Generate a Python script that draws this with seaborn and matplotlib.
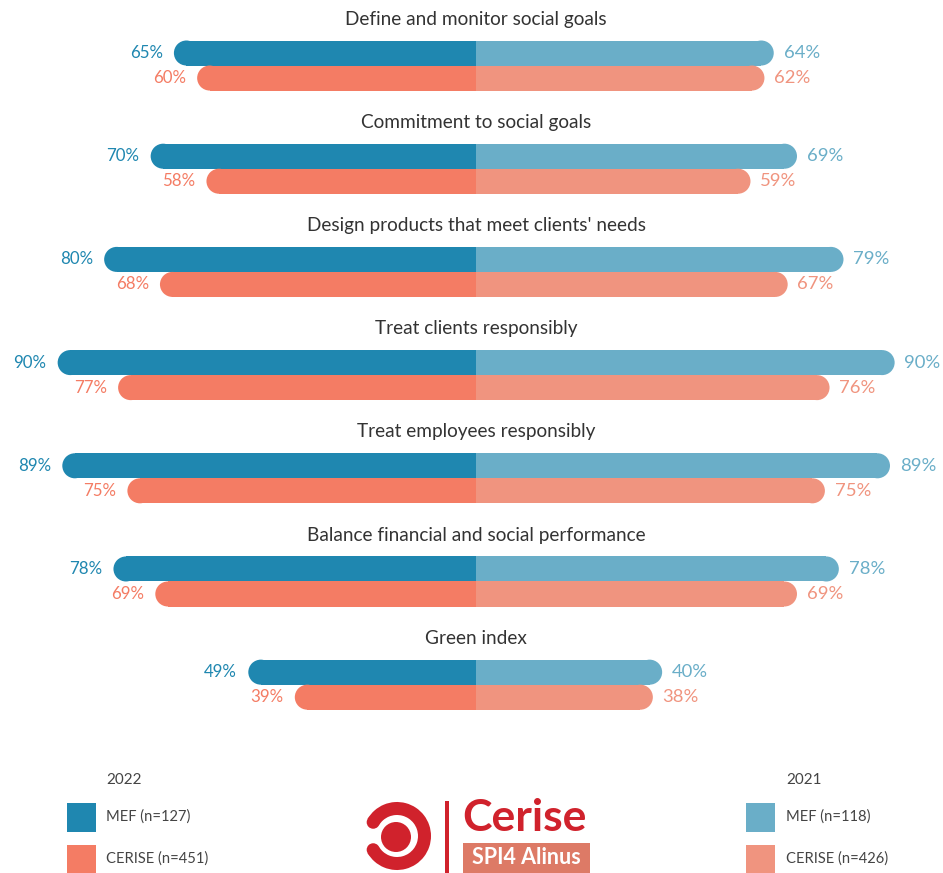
import seaborn as sns
import matplotlib.pyplot as plt
import pandas as pd
from matplotlib.patches import Rectangle, Ellipse, Wedge, Circle
import numpy as np

# ---- data ----
categories = ["Define and monitor social goals", "Commitment to social goals",
              "Design products that meet clients' needs", "Treat clients responsibly",
              "Treat employees responsibly", "Balance financial and social performance",
              "Green index"]
mef_2022 = [65, 70, 80, 90, 89, 78, 49]
cerise_2022 = [60, 58, 68, 77, 75, 69, 39]
mef_2021 = [64, 69, 79, 90, 89, 78, 40]
cerise_2021 = [62, 59, 67, 76, 75, 69, 38]
legend_2022 = ["MEF (n=127)", "CERISE (n=451)"]
legend_2021 = ["MEF (n=118)", "CERISE (n=426)"]

C_MEF22, C_CER22 = "#1f87b0", "#f47c64"
C_MEF21, C_CER21 = "#6aaec8", "#f0947f"
TXT = "#333333"

W, H = 943, 873
sns.set_style("white")
plt.rcParams['font.family'] = ['Lato', 'DejaVu Sans']

df22 = pd.DataFrame({"category": categories * 2,
                     "group": ["MEF"] * 7 + ["CERISE"] * 7,
                     "value": [-v for v in mef_2022 + cerise_2022]})
df21 = pd.DataFrame({"category": categories * 2,
                     "group": ["MEF"] * 7 + ["CERISE"] * 7,
                     "value": mef_2021 + cerise_2021})

fig = plt.figure(figsize=(W / 100, H / 100), dpi=100)
ax = fig.add_axes([0, 0, 1, 1])

for d, pal in [(df22, [C_MEF22, C_CER22]), (df21, [C_MEF21, C_CER21])]:
    sns.barplot(data=d, x="value", y="category", hue="group", orient="h",
                palette=pal, saturation=1, width=0.485, dodge=True,
                errorbar=None, legend=False, ax=ax)

ax.set_xlim(-102.4, 100.4)
ax.set_ylim(7.825, -0.635)
ax.axis("off")

# rounded outer ends
x_unit = ax.transData.transform((1, 0))[0] - ax.transData.transform((0, 0))[0]
y_unit = abs(ax.transData.transform((0, 1))[1] - ax.transData.transform((0, 0))[1])
for p in list(ax.patches):
    x0, w, y, h = p.get_x(), p.get_width(), p.get_y(), p.get_height()
    outer = x0 + w if abs(x0 + w) > abs(x0) else x0
    sign = 1 if outer > 0 else -1
    r = (h * y_unit / 2) / x_unit
    p.set_x(0)
    p.set_width(outer - sign * r)
    p.set_linewidth(0)
    ax.add_patch(Ellipse((outer - sign * r, y + h / 2), 2 * r, h,
                         facecolor=p.get_facecolor(), linewidth=0))

# labels
off = 0.485 / 4
for i, cat in enumerate(categories):
    ax.text(0, i - 0.45, cat, ha="center", va="center", fontsize=13.7, color=TXT)
    for vals, col, dy in [(mef_2022, C_MEF22, -off), (cerise_2022, C_CER22, off)]:
        ax.text(-vals[i] - 2.4, i + dy, f"{vals[i]}%", ha="right", va="center",
                fontsize=12.2, color=col)
    for vals, col, dy in [(mef_2021, C_MEF21, -off), (cerise_2021, C_CER21, off)]:
        ax.text(vals[i] + 2.1, i + dy, f"{vals[i]}%", ha="left", va="center",
                fontsize=13.3, color=col)

# legend
def px_rect(x, y, w, h, c):
    fig.add_artist(Rectangle((x / W, 1 - (y + h) / H), w / W, h / H,
                             transform=fig.transFigure, color=c, lw=0))

for x_sq, x_tx, year, labels, cols in [(67, 106, "2022", legend_2022, [C_MEF22, C_CER22]),
                                       (746, 786, "2021", legend_2021, [C_MEF21, C_CER21])]:
    fig.text(x_tx / W, 1 - 780 / H, year, ha="left", va="center", fontsize=11, color="#444444")
    for j, (lab, c) in enumerate(zip(labels, cols)):
        yc = 817 + j * 42
        px_rect(x_sq, yc - 14.5, 29, 29, c)
        fig.text(x_tx / W, 1 - yc / H, lab, ha="left", va="center", fontsize=10.6, color="#444444")

# logo
lax = fig.add_axes([355 / W, 0, 245 / W, 78 / H])
lax.set_xlim(355, 600)
lax.set_ylim(873, 795)
lax.axis("off")
RED = "#d0222c"
cx, cy, R, t = 397, 836, 34, 13
lax.add_patch(Wedge((cx, cy), R, -150, 150, width=t, color=RED, lw=0))
for a in (150, -150):
    lax.add_patch(Circle((cx + (R - t / 2) * np.cos(np.radians(a)),
                          cy + (R - t / 2) * np.sin(np.radians(a))), t / 2, color=RED, lw=0))
lax.add_patch(Circle((cx - 1, cy + 1), 15, color=RED, lw=0))
lax.add_patch(Rectangle((445, 801), 3.5, 72, color=RED, lw=0))
lax.text(462, 818, "Cerise", ha="left", va="center", fontsize=32, fontweight="bold", color=RED)
lax.add_patch(Rectangle((463, 843), 127, 32, color="#dd7a66", lw=0))
lax.text(526.5, 858, "SPI4 Alinus", ha="center", va="center", fontsize=15.5,
         fontweight="bold", color="white")

fig.savefig("out.png", dpi=100)
